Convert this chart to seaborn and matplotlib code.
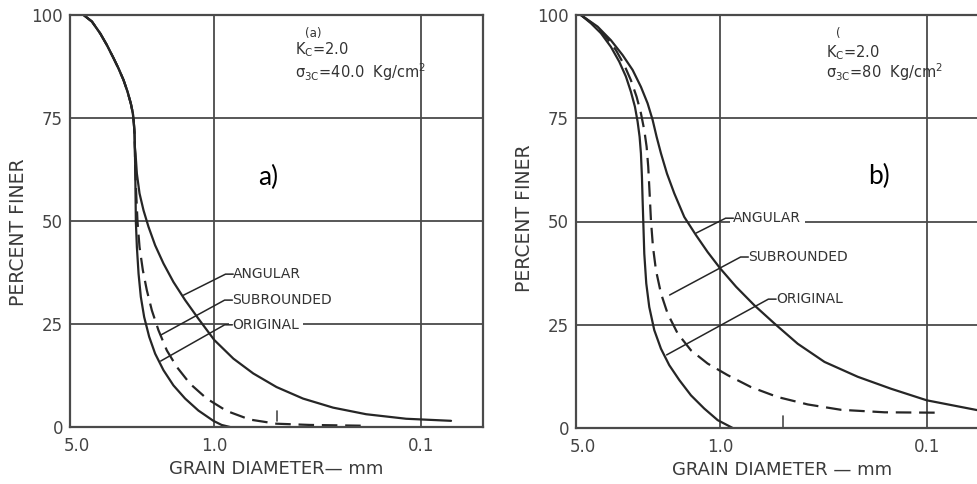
import matplotlib
matplotlib.use("Agg")
import matplotlib.pyplot as plt
from matplotlib.ticker import NullLocator
from matplotlib.transforms import ScaledTranslation
import pandas as pd
import seaborn as sns

# ---------------- data: grain size distributions (diameter in mm, percent finer) ----------------
# Panel (a): Kc = 2.0, sigma3c = 40 kg/cm2
a_top_d = [4.295, 3.914, 3.567, 3.313, 3.075, 2.909, 2.752, 2.633, 2.537, 2.480, 2.453, 2.435, 2.426]
a_top_p = [100.0, 98.4, 95.5, 92.7, 89.5, 87.0, 84.2, 81.4, 78.5, 76.1, 73.7, 71.3, 68.0]

a_original_d = a_top_d + [2.417, 2.408, 2.399, 2.372, 2.328, 2.270, 2.187, 2.068, 1.935, 1.764,
                          1.578, 1.385, 1.195, 1.011, 0.922, 0.840]
a_original_p = a_top_p + [63.2, 56.7, 49.8, 43.7, 37.2, 31.6, 26.7, 21.9, 17.8, 13.8,
                          10.1, 6.9, 4.0, 1.5, 0.5, 0.0]

a_subround_d = a_top_d + [2.417, 2.390, 2.355, 2.303, 2.220, 2.123, 2.007, 1.865, 1.699, 1.521,
                          1.311, 1.089, 0.872, 0.673, 0.500, 0.345, 0.184]
a_subround_p = a_top_p + [63.2, 56.7, 49.8, 43.7, 38.1, 33.2, 28.3, 23.5, 18.6, 14.6,
                          10.5, 6.9, 3.9, 1.8, 0.8, 0.5, 0.3]

a_angular_d = a_top_d + [2.408, 2.372, 2.303, 2.203, 2.084, 1.935, 1.764, 1.578, 1.385, 1.195,
                         1.000, 0.809, 0.648, 0.500, 0.372, 0.266, 0.184, 0.1177, 0.0714]
a_angular_p = a_top_p + [66.4, 61.5, 56.7, 52.6, 48.6, 44.1, 39.7, 35.2, 30.8, 26.3,
                         21.1, 16.6, 13.0, 9.7, 6.9, 4.7, 3.1, 2.0, 1.5]

# Panel (b): Kc = 2.0, sigma3c = 80 kg/cm2
b_original_d = [4.734, 4.235, 3.788, 3.389, 3.087, 2.866, 2.710, 2.592, 2.516, 2.460, 2.424, 2.397,
                2.379, 2.361, 2.335, 2.284, 2.209, 2.089, 1.939, 1.767, 1.580, 1.387, 1.196, 1.030, 0.871]
b_original_p = [100.0, 98.0, 95.6, 92.3, 88.7, 85.1, 81.4, 77.8, 74.2, 70.5, 66.5, 60.8,
                55.2, 49.9, 42.2, 35.0, 29.3, 23.7, 19.2, 15.2, 11.6, 7.9, 4.7, 1.9, 0.0]

b_subround_d = [4.734, 4.081, 3.583, 3.204, 2.920, 2.710, 2.544, 2.424, 2.335, 2.275, 2.234, 2.200,
                2.168, 2.120, 2.050, 1.939, 1.800, 1.610, 1.387, 1.152, 0.922, 0.710, 0.528, 0.377,
                0.260, 0.160, 0.0852]
b_subround_p = [100.0, 97.6, 94.7, 91.5, 87.9, 84.2, 80.2, 76.2, 72.1, 68.1, 63.2, 56.8,
                50.3, 43.9, 38.2, 32.6, 27.7, 22.9, 18.8, 15.6, 12.8, 9.9, 7.5, 5.7,
                4.4, 3.8, 3.7]

b_angular_d = [4.734, 3.932, 3.389, 2.974, 2.660, 2.424, 2.250, 2.128, 2.035, 1.939, 1.813, 1.671,
               1.495, 1.312, 1.152, 1.000, 0.839, 0.684, 0.547, 0.422, 0.313, 0.216, 0.149, 0.100, 0.0566]
b_angular_p = [100.0, 97.2, 93.9, 90.3, 86.7, 82.6, 78.6, 74.6, 70.5, 66.5, 61.6, 56.8,
               51.1, 46.7, 42.6, 38.6, 34.2, 29.7, 25.3, 20.4, 16.0, 12.4, 9.5, 6.7, 4.3]

x_ticks = [5.0, 1.0, 0.1]
x_tick_labels = ["5.0", "1.0", "0.1"]
y_ticks = [0, 25, 50, 75, 100]

# curve labels: (text, point on curve d, p, text anchor d, p)
a_labels = [("ANGULAR", 1.41, 32.0, 0.81, 37.1),
            ("SUBROUNDED", 1.82, 22.3, 0.818, 30.8),
            ("ORIGINAL", 1.82, 16.0, 0.818, 24.8)]
b_labels = [("ANGULAR", 1.31, 47.2, 0.865, 50.8),
            ("SUBROUNDED", 1.76, 32.2, 0.732, 41.4),
            ("ORIGINAL", 1.82, 17.7, 0.537, 31.2)]

INK = "#262626"
GRID = "#4a4a4a"

sns.set_style("white")
plt.rcParams["font.family"] = ["DejaVu Sans"]

fig = plt.figure(figsize=(9.77, 4.84), dpi=100)
ax_a = fig.add_axes([70 / 977, 57 / 484, 413 / 977, 412 / 484])
ax_b = fig.add_axes([576 / 977, 56 / 484, 413 / 977, 413 / 484])


def curves(ax, series):
    for d, p, dashed in series:
        df = pd.DataFrame({"diameter": d, "finer": p})
        kw = dict(linestyle=(0, (7, 3.5))) if dashed else {}
        sns.lineplot(data=df, x="diameter", y="finer", ax=ax, sort=False, estimator=None,
                     color=INK, lw=1.6, **kw)


def frame(ax, xlabel):
    ax.set_xscale("log")
    ax.set_xlim(5.0, 0.05)
    ax.set_ylim(0, 100)
    ax.set_xticks(x_ticks)
    ax.set_xticklabels(x_tick_labels)
    ax.xaxis.set_minor_locator(NullLocator())
    ax.set_yticks(y_ticks)
    ax.set_yticklabels([str(v) for v in y_ticks])
    ax.grid(True, color=GRID, lw=1.3)
    ax.set_axisbelow(True)
    for s in ax.spines.values():
        s.set_color(GRID)
        s.set_linewidth(1.6)
    ax.tick_params(axis="both", length=0, labelsize=12, colors="#444444")
    ax.tick_params(axis="x", pad=7)
    ax.tick_params(axis="y", pad=5)
    ax.set_xlabel(xlabel, fontsize=13, color="#3a3a3a", labelpad=4)
    ax.set_ylabel("")
    # nudge the "5.0" label right of the corner
    lab = ax.get_xticklabels()[0]
    lab.set_transform(lab.get_transform() + ScaledTranslation(7 / 100, 0, fig.dpi_scale_trans))


def leaders(ax, labels):
    for text, cx, cy, tx, ty in labels:
        knee = tx * 1.09
        ax.plot([cx, knee, tx], [cy, ty, ty], color=INK, lw=1.1, zorder=6)
        ax.text(tx, ty, text, ha="left", va="center", fontsize=10, color="#333333", zorder=5,
                bbox=dict(boxstyle="square,pad=0.25", fc="white", ec="none"))


curves(ax_a, [(a_original_d, a_original_p, False),
              (a_subround_d, a_subround_p, True),
              (a_angular_d, a_angular_p, False)])
curves(ax_b, [(b_original_d, b_original_p, False),
              (b_subround_d, b_subround_p, True),
              (b_angular_d, b_angular_p, False)])

frame(ax_a, "GRAIN DIAMETER— mm")
frame(ax_b, "GRAIN DIAMETER — mm")

# short break marks at 0.5 mm
ax_a.plot([0.5, 0.5], [1.5, 4.0], color=GRID, lw=1.2)
ax_b.plot([0.5, 0.5], [0.0, 3.0], color=GRID, lw=1.2)

leaders(ax_a, a_labels)
leaders(ax_b, b_labels)

ax_a.text(-51 / 413, 0.473, "PERCENT FINER", rotation=90, ha="center", va="center",
          transform=ax_a.transAxes, fontsize=13.5, color="#3a3a3a")
ax_b.text(-51 / 413, 0.508, "PERCENT FINER", rotation=90, ha="center", va="center",
          transform=ax_b.transAxes, fontsize=13.5, color="#3a3a3a")

# test conditions
cond = dict(fontsize=10.5, color="#333333", va="center", ha="left")
ax_a.text(0.588, 0.956, "(a)", transform=ax_a.transAxes, fontsize=8.5, color="#333333", va="center", ha="center")
ax_a.text(0.545, 0.915, r"K$_\mathregular{C}$=2.0", transform=ax_a.transAxes, **cond)
ax_a.text(0.545, 0.862, r"σ$_\mathregular{3C}$=40.0  Kg/cm$^\mathregular{2}$", transform=ax_a.transAxes, **cond)
ax_b.text(0.634, 0.956, "(", transform=ax_b.transAxes, fontsize=8.5, color="#333333", va="center", ha="center")
ax_b.text(0.605, 0.908, r"K$_\mathregular{C}$=2.0", transform=ax_b.transAxes, **cond)
ax_b.text(0.605, 0.862, r"σ$_\mathregular{3C}$=80  Kg/cm$^\mathregular{2}$", transform=ax_b.transAxes, **cond)

# panel tags
fig.text(268 / 977, 1 - 177 / 484, "a)", fontsize=19, family=["Lato", "DejaVu Sans"],
         ha="center", va="center", color="black")
fig.text(879 / 977, 1 - 176 / 484, "b)", fontsize=19, family=["Lato", "DejaVu Sans"],
         ha="center", va="center", color="black")

fig.savefig("out.png", dpi=100, facecolor="white")
